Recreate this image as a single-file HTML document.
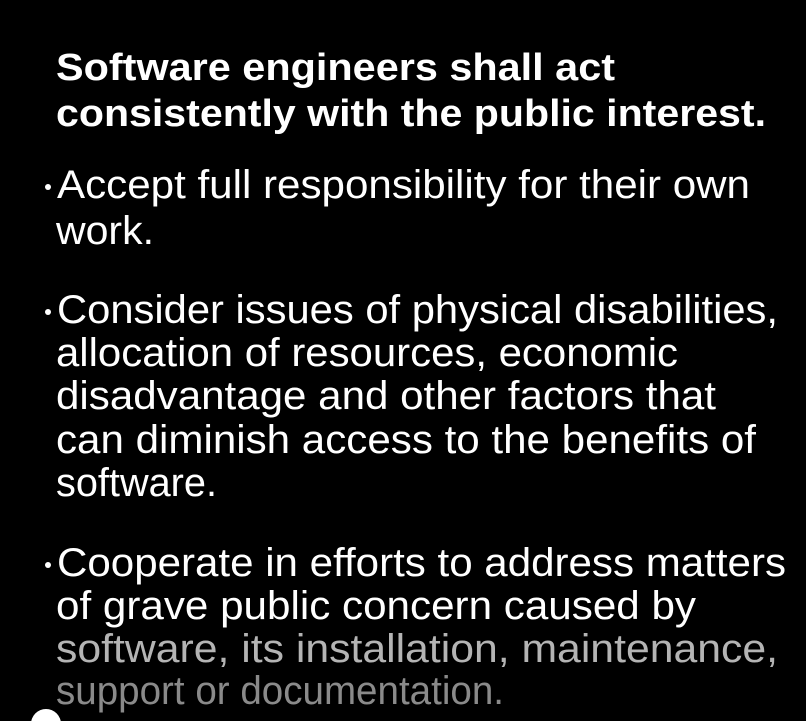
<!DOCTYPE html>
<html><head><meta charset="utf-8"><style>
html,body{margin:0;padding:0;background:#000;width:806px;height:721px;overflow:hidden}
svg{display:block}
text{font-family:"Liberation Sans",Arial,sans-serif;fill:#fff}
.t{font-weight:bold;font-size:38px}
.b{font-size:40px}
</style></head><body>
<svg width="806" height="721">
<rect width="806" height="721" fill="#000"/>
<text class="t" x="56" y="80" textLength="559" lengthAdjust="spacingAndGlyphs">Software engineers shall act</text>
<text class="t" x="56" y="126" textLength="710" lengthAdjust="spacingAndGlyphs">consistently with the public interest.</text>

<circle cx="48" cy="187" r="3" fill="#fff"/>
<text class="b" x="57" y="198" textLength="693" lengthAdjust="spacingAndGlyphs">Accept full responsibility for their own</text>
<text class="b" x="56" y="244" textLength="98" lengthAdjust="spacingAndGlyphs">work.</text>

<circle cx="48" cy="312" r="3" fill="#fff"/>
<text class="b" x="57" y="323" textLength="721" lengthAdjust="spacingAndGlyphs">Consider issues of physical disabilities,</text>
<text class="b" x="56" y="366" textLength="622" lengthAdjust="spacingAndGlyphs">allocation of resources, economic</text>
<text class="b" x="56" y="409" textLength="660" lengthAdjust="spacingAndGlyphs">disadvantage and other factors that</text>
<text class="b" x="56" y="453" textLength="700" lengthAdjust="spacingAndGlyphs">can diminish access to the benefits of</text>
<text class="b" x="56" y="496" textLength="161" lengthAdjust="spacingAndGlyphs">software.</text>

<circle cx="48" cy="565" r="3" fill="#fff"/>
<text class="b" x="57" y="576" textLength="729" lengthAdjust="spacingAndGlyphs">Cooperate in efforts to address matters</text>
<text class="b" x="56" y="619" textLength="640" lengthAdjust="spacingAndGlyphs">of grave public concern caused by</text>
<text class="b" x="56" y="662" textLength="722" lengthAdjust="spacingAndGlyphs" style="fill:#b4b4b4">software, its installation, maintenance,</text>
<text class="b" x="56" y="704" textLength="448" lengthAdjust="spacingAndGlyphs" style="fill:#8a8a8a">support or documentation.</text>

<circle cx="46" cy="724" r="15" fill="#fff"/>
</svg>
</body></html>
